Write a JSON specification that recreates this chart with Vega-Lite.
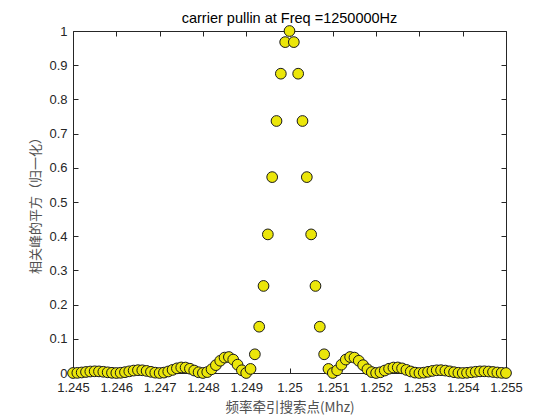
{
  "$schema": "https://vega.github.io/schema/vega-lite/v6.json",
  "width": 433,
  "height": 342,
  "autosize": {"type": "none"},
  "padding": {"left": 73, "top": 31, "right": 54, "bottom": 47},
  "background": "white",
  "config": {"view": {"stroke": null}, "font": "Liberation Sans"},
  "title": {"text": "carrier pullin at   Freq =1250000Hz", "fontSize": 14.5, "fontWeight": "normal", "color": "#000000", "font": "Liberation Sans", "offset": -3},
  "data": {"values": [
    {"f": 1.2450, "p": 0},
    {"f": 1.2451, "p": 0.000403},
    {"f": 1.2452, "p": 0.00152},
    {"f": 1.2453, "p": 0.00300},
    {"f": 1.2454, "p": 0.00433},
    {"f": 1.2455, "p": 0.00500},
    {"f": 1.2456, "p": 0.00473},
    {"f": 1.2457, "p": 0.00359},
    {"f": 1.2458, "p": 0.00198},
    {"f": 1.2459, "p": 0.000576},
    {"f": 1.2460, "p": 0},
    {"f": 1.2461, "p": 0.000636},
    {"f": 1.2462, "p": 0.00242},
    {"f": 1.2463, "p": 0.00484},
    {"f": 1.2464, "p": 0.00707},
    {"f": 1.2465, "p": 0.00827},
    {"f": 1.2466, "p": 0.00793},
    {"f": 1.2467, "p": 0.00609},
    {"f": 1.2468, "p": 0.00342},
    {"f": 1.2469, "p": 0.00101},
    {"f": 1.2470, "p": 0},
    {"f": 1.2471, "p": 0.00115},
    {"f": 1.2472, "p": 0.00447},
    {"f": 1.2473, "p": 0.00910},
    {"f": 1.2474, "p": 0.01356},
    {"f": 1.2475, "p": 0.01621},
    {"f": 1.2476, "p": 0.01591},
    {"f": 1.2477, "p": 0.01254},
    {"f": 1.2478, "p": 0.00723},
    {"f": 1.2479, "p": 0.00219},
    {"f": 1.2480, "p": 0},
    {"f": 1.2481, "p": 0.00268},
    {"f": 1.2482, "p": 0.01080},
    {"f": 1.2483, "p": 0.02295},
    {"f": 1.2484, "p": 0.03580},
    {"f": 1.2485, "p": 0.04503},
    {"f": 1.2486, "p": 0.04676},
    {"f": 1.2487, "p": 0.03924},
    {"f": 1.2488, "p": 0.02431},
    {"f": 1.2489, "p": 0.00800},
    {"f": 1.2490, "p": 0},
    {"f": 1.2491, "p": 0.01194},
    {"f": 1.2492, "p": 0.05470},
    {"f": 1.2493, "p": 0.13534},
    {"f": 1.2494, "p": 0.25457},
    {"f": 1.2495, "p": 0.40528},
    {"f": 1.2496, "p": 0.57279},
    {"f": 1.2497, "p": 0.73684},
    {"f": 1.2498, "p": 0.87515},
    {"f": 1.2499, "p": 0.96754},
    {"f": 1.2500, "p": 1},
    {"f": 1.2501, "p": 0.96754},
    {"f": 1.2502, "p": 0.87515},
    {"f": 1.2503, "p": 0.73684},
    {"f": 1.2504, "p": 0.57279},
    {"f": 1.2505, "p": 0.40528},
    {"f": 1.2506, "p": 0.25457},
    {"f": 1.2507, "p": 0.13534},
    {"f": 1.2508, "p": 0.05470},
    {"f": 1.2509, "p": 0.01194},
    {"f": 1.2510, "p": 0},
    {"f": 1.2511, "p": 0.00800},
    {"f": 1.2512, "p": 0.02431},
    {"f": 1.2513, "p": 0.03924},
    {"f": 1.2514, "p": 0.04676},
    {"f": 1.2515, "p": 0.04503},
    {"f": 1.2516, "p": 0.03580},
    {"f": 1.2517, "p": 0.02295},
    {"f": 1.2518, "p": 0.01080},
    {"f": 1.2519, "p": 0.00268},
    {"f": 1.2520, "p": 0},
    {"f": 1.2521, "p": 0.00219},
    {"f": 1.2522, "p": 0.00723},
    {"f": 1.2523, "p": 0.01254},
    {"f": 1.2524, "p": 0.01591},
    {"f": 1.2525, "p": 0.01621},
    {"f": 1.2526, "p": 0.01356},
    {"f": 1.2527, "p": 0.00910},
    {"f": 1.2528, "p": 0.00447},
    {"f": 1.2529, "p": 0.00115},
    {"f": 1.2530, "p": 0},
    {"f": 1.2531, "p": 0.00101},
    {"f": 1.2532, "p": 0.00342},
    {"f": 1.2533, "p": 0.00609},
    {"f": 1.2534, "p": 0.00793},
    {"f": 1.2535, "p": 0.00827},
    {"f": 1.2536, "p": 0.00707},
    {"f": 1.2537, "p": 0.00484},
    {"f": 1.2538, "p": 0.00242},
    {"f": 1.2539, "p": 0.000636},
    {"f": 1.2540, "p": 0},
    {"f": 1.2541, "p": 0.000576},
    {"f": 1.2542, "p": 0.00198},
    {"f": 1.2543, "p": 0.00359},
    {"f": 1.2544, "p": 0.00473},
    {"f": 1.2545, "p": 0.00500},
    {"f": 1.2546, "p": 0.00433},
    {"f": 1.2547, "p": 0.00300},
    {"f": 1.2548, "p": 0.00152},
    {"f": 1.2549, "p": 0.000403},
    {"f": 1.2550, "p": 0}
  ]},
  "layer": [
    {
      "mark": {"type": "point", "opacity": 0},
      "encoding": {
        "x": {"field": "f", "type": "quantitative", "scale": {"domain": [1.245, 1.255], "nice": false, "zero": false},
          "axis": {"orient": "top", "values": [1.245, 1.246, 1.247, 1.248, 1.249, 1.25, 1.251, 1.252, 1.253, 1.254, 1.255], "labels": false, "title": null, "grid": false, "tickSize": -5, "tickColor": "#262626", "domainColor": "#262626", "domainWidth": 1, "tickWidth": 1}},
        "y": {"field": "p", "type": "quantitative", "scale": {"domain": [0, 1], "nice": false},
          "axis": {"orient": "right", "values": [0, 0.1, 0.2, 0.3, 0.4, 0.5, 0.6, 0.7, 0.8, 0.9, 1], "labels": false, "title": null, "grid": false, "tickSize": -5, "tickColor": "#262626", "domainColor": "#262626", "domainWidth": 1, "tickWidth": 1}}
      }
    },
    {
      "mark": {"type": "point", "shape": "circle", "filled": true, "fill": "#ebe60a", "stroke": "#1a1a1a", "strokeWidth": 1, "size": 115, "opacity": 1},
      "encoding": {
        "x": {"field": "f", "type": "quantitative", "scale": {"domain": [1.245, 1.255], "nice": false, "zero": false},
          "axis": {"orient": "bottom", "values": [1.245, 1.246, 1.247, 1.248, 1.249, 1.25, 1.251, 1.252, 1.253, 1.254, 1.255], "format": "~g", "grid": false, "tickSize": -5, "tickColor": "#262626", "domainColor": "#262626", "domainWidth": 1, "tickWidth": 1, "labelFont": "Liberation Sans", "labelFontSize": 13, "labelColor": "#262626", "labelPadding": 13, "labelFlush": false, "labelOverlap": false, "title": "频率牵引搜索点(Mhz)", "titleFont": "Noto Sans CJK SC", "titleFontSize": 13.5, "titleFontWeight": "normal", "titleColor": "#505050", "titlePadding": 6}},
        "y": {"field": "p", "type": "quantitative", "scale": {"domain": [0, 1], "nice": false},
          "axis": {"orient": "left", "values": [0, 0.1, 0.2, 0.3, 0.4, 0.5, 0.6, 0.7, 0.8, 0.9, 1], "format": "~g", "grid": false, "tickSize": -5, "tickColor": "#262626", "domainColor": "#262626", "domainWidth": 1, "tickWidth": 1, "labelFont": "Liberation Sans", "labelFontSize": 13, "labelColor": "#262626", "labelPadding": 11, "labelFlush": false, "labelOverlap": false, "title": "相关峰的平方（归一化）", "titleFont": "Noto Sans CJK SC", "titleFontSize": 13, "titleFontWeight": "normal", "titleColor": "#505050", "titlePadding": 6}}
      }
    }
  ],
  "resolve": {"axis": {"x": "independent", "y": "independent"}}
}
